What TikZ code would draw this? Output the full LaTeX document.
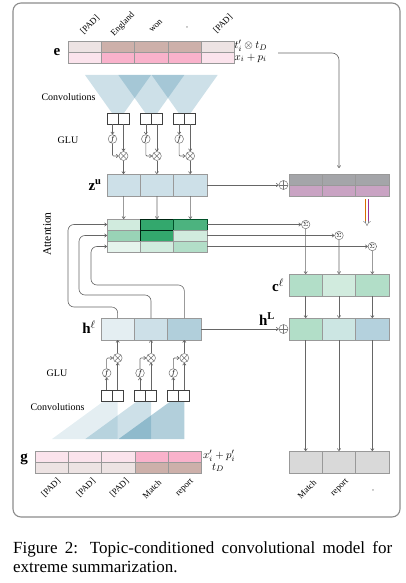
\documentclass[tikz,border=0pt]{standalone}
\usepackage{fontspec}
\setmainfont{Liberation Serif}
\usetikzlibrary{arrows.meta}
\definecolor{bc}{RGB}{5,100,140}
\definecolor{gc}{RGB}{0,146,72}
\definecolor{padtop}{RGB}{237,227,227}
\definecolor{tbrown}{RGB}{205,176,170}
\definecolor{padpink}{RGB}{251,227,236}
\definecolor{tpink}{RGB}{249,178,203}
\definecolor{tgray}{RGB}{164,165,169}
\definecolor{tpurp}{RGB}{201,163,195}
\definecolor{hmid}{RGB}{204,230,227}
\definecolor{ogray}{RGB}{217,217,217}
\tikzset{
 cell/.style={draw=black!40, line width=0.5pt, minimum width=33.33pt, minimum height=11pt, inner sep=0pt, outer sep=0pt},
 tall/.style={cell, minimum height=22pt},
 gbox/.style={draw=black!75, line width=0.7pt, minimum width=11pt, minimum height=11pt, inner sep=0pt, outer sep=0pt},
 conn/.style={draw=black!60, line width=0.6pt, ->},
 opl/.style={circle, draw=black!55, line width=0.5pt, minimum size=9pt, inner sep=0pt,
   path picture={\draw[black!55, line width=0.5pt] (path picture bounding box.north) -- (path picture bounding box.south) (path picture bounding box.west) -- (path picture bounding box.east);}},
 otim/.style={circle, draw=black!55, line width=0.5pt, minimum size=9pt, inner sep=0pt,
   path picture={\draw[black!55, line width=0.5pt] (path picture bounding box.north west) -- (path picture bounding box.south east) (path picture bounding box.north east) -- (path picture bounding box.south west);}},
 fcirc/.style={circle, draw=black!55, line width=0.5pt, minimum size=8pt, inner sep=0pt, font=\fontsize{8}{8}\selectfont},
 sig/.style={circle, draw=black!55, line width=0.5pt, minimum size=8.5pt, inner sep=0pt, font=\fontsize{6}{6}\selectfont},
 word/.style={font=\fontsize{8.8}{10}\selectfont, inner sep=0pt, rotate=45},
 txt/.style={font=\fontsize{10}{12}\selectfont, inner sep=0pt},
 lbl/.style={font=\fontsize{11}{12}\selectfont, inner sep=1pt},
 bigl/.style={font=\fontsize{15}{16}\selectfont, inner sep=0pt},
 capt/.style={font=\fontsize{17}{19}\selectfont, inner sep=0pt, anchor=base west}
}
\begin{document}
\begin{tikzpicture}[x=1pt,y=-1pt,>={To[length=2.7pt,width=3.8pt]}]
\useasboundingbox (0,0) rectangle (405,583);
\draw[black!45, line width=1.1pt, rounded corners=8pt] (13,3) rectangle (400,517);

% ---------- e row
\foreach \i/\ct/\cb in {1/padtop/padpink,2/tbrown/tpink,3/tbrown/tpink,4/tbrown/tpink,5/padtop/padpink}{
  \node[cell, fill=\ct] (et\i) at ({68+33.33*(\i-0.5)},46.5) {};
  \node[cell, fill=\cb] (eb\i) at ({68+33.33*(\i-0.5)},57.5) {};
}
\node[word] (ew1) at (90,25) {[PAD]};
\node[word] (ew2) at (123,24.5) {England};
\node[word] (ew3) at (156,26) {won};
\node[word] (ew4) at (187,27) {.};
\node[word] (ew5) at (223,24) {[PAD]};
\node[lbl, anchor=west] (tl1) at (233.5,46) {$t'_i\otimes t_D$};
\node[lbl, anchor=west] (tl2) at (233.5,58) {$x_i+p_i$};
\node[bigl] (elab) at (57,52) {$\mathbf{e}$};

% ---------- top convolutions
\foreach \c in {118,151.33,184.67}
  \fill[bc, fill opacity=0.2] (\c-33,75) -- (\c+33,75) -- (\c+6,113) -- (\c-6,113) -- cycle;
\node[txt] (convt) at (68.5,97) {Convolutions};
\node[txt] (glut) at (68,140) {GLU};

% ---------- z^u row
\foreach \i in {1,2,3}
  \node[tall, fill=bc!20!white] (zu\i) at ({107+33.33*(\i-0.5)},185) {};
\node[bigl] (zul) at (95,185) {$\mathbf{z}^{\mathbf{u}}$};

% ---------- top GLU
\foreach \i/\c in {1/118,2/151.33,3/184.67}{
  \node[gbox] (ul\i) at (\c-5.5,118.5) {};
  \node[gbox] (ur\i) at (\c+5.5,118.5) {};
  \node[fcirc] (uf\i) at (\c-5.5,139) {$f$};
  \node[otim] (uo\i) at (\c+5.5,156) {};
  \draw[conn] (ul\i.south) -- (uf\i.north);
  \draw[conn, rounded corners=1pt] (uf\i.south) |- (uo\i.west);
  \draw[conn] (ur\i.south) -- (uo\i.north);
  \draw[conn] (uo\i.south) -- (uo\i.south |- zu\i.north);
}

% ---------- right upper block
\foreach \i in {1,2,3}{
  \node[cell, fill=tgray] (rt\i) at ({289+33.33*(\i-0.5)},179.5) {};
  \node[cell, fill=tpurp] (rb\i) at ({289+33.33*(\i-0.5)},190.5) {};
}
\node[opl] (op1) at (283.5,185) {};
\draw[conn] (zu3.east) -- (op1.west);
\coordinate (eout) at (278,53);
\draw[conn, rounded corners=7pt, shorten >=6pt] (eout) -- (rt2.north |- eout) -- (rt2.north);

\coordinate (da) at (367,199);
\coordinate (db) at (367,226);
\draw[-{Implies}, double, double distance=2.2pt, black!50, line width=0.45pt] (da) -- (db);
\draw[orange!85!black, line width=0.45pt, shorten >=5pt] ([xshift=-1.3pt]da) -- ([xshift=-1.3pt]db);
\draw[violet!80, line width=0.45pt, shorten >=5pt] ([xshift=1.3pt]da) -- ([xshift=1.3pt]db);

% ---------- attention matrix
\node[cell, fill=gc!18!white] (a11) at (123.67,224.5) {};
\node[cell, fill=gc!80!white, draw=black!75!gc] (a12) at (157,224.5) {};
\node[cell, fill=gc!70!white, draw=gc!55!black] (a13) at (190.33,224.5) {};
\node[cell, fill=gc!40!white] (a21) at (123.67,235.5) {};
\node[cell, fill=gc!80!white, draw=black!75!gc] (a22) at (157,235.5) {};
\node[cell, fill=gc!18!white] (a23) at (190.33,235.5) {};
\node[cell, fill=gc!10!white] (a31) at (123.67,246.5) {};
\node[cell, fill=gc!18!white] (a32) at (157,246.5) {};
\node[cell, fill=gc!30!white] (a33) at (190.33,246.5) {};
\foreach \i in {1,2,3}
  \draw[conn] (zu\i.south) -- (a1\i.north);
\node[font=\fontsize{11.5}{12}\selectfont, rotate=90, inner sep=0pt] (attl) at (47,234) {Attention};

\node[sig] (s1) at (305.67,224.5) {$\Sigma$};
\node[sig] (s2) at (339,235.5) {$\Sigma$};
\node[sig] (s3) at (372.33,246.5) {$\Sigma$};
\draw[conn] (a13.east) -- (s1.west);
\draw[conn] (a23.east) -- (s2.west);
\draw[conn] (a33.east) -- (s3.west);

% ---------- c^l, h^L, output
\foreach \i/\cf/\hf in {1/gc!30!white/gc!30!white,2/gc!18!white/hmid,3/gc!30!white/bc!30!white}{
  \node[tall, fill=\cf] (c\i) at ({289+33.33*(\i-0.5)},285) {};
  \node[tall, fill=\hf] (hL\i) at ({289+33.33*(\i-0.5)},329) {};
  \node[tall, fill=ogray] (o\i) at ({289+33.33*(\i-0.5)},462) {};
  \draw[conn] (s\i.south) -- (c\i.north);
  \draw[conn] (c\i.south) -- (hL\i.north);
  \draw[conn] (hL\i.south) -- (o\i.north);
}
\node[bigl] (cll) at (278,285) {$\mathbf{c}^{\ell}$};
\node[bigl] (hLl) at (267,319) {$\mathbf{h}^{\mathbf{L}}$};
\node[opl] (op2) at (283.5,329) {};

% ---------- h^l row
\foreach \i/\hf in {1/bc!11!white,2/bc!20!white,3/bc!31!white}
  \node[tall, fill=\hf] (hl\i) at ({101+33.33*(\i-0.5)},329) {};
\node[bigl] (hll) at (89,327) {$\mathbf{h}^{\ell}$};
\draw[conn] (hl3.east) -- (op2.west);

\draw[conn, rounded corners=6pt] (hl1.north) -- (hl1.north |- 0,307) -- (68,307) -- (68,224.5) -- (a11.west);
\draw[conn, rounded corners=6pt] (hl2.north) -- (hl2.north |- 0,295) -- (79,295) -- (79,235.5) -- (a21.west);
\draw[conn, rounded corners=6pt] (hl3.north) -- (hl3.north |- 0,285) -- (91,285) -- (91,246.5) -- (a31.west);

% ---------- bottom convolutions
\fill[bc, fill opacity=0.11] (52,439) -- (104,401) -- (117.67,401) -- (117.67,439) -- cycle;
\fill[bc, fill opacity=0.2] (85.33,439) -- (137.5,401) -- (151,401) -- (151,439) -- cycle;
\fill[bc, fill opacity=0.31] (118.67,439) -- (171,401) -- (184.33,401) -- (184.33,439) -- cycle;
\node[txt] (convb) at (57.5,407) {Convolutions};
\node[txt] (glub) at (57,373) {GLU};

% ---------- bottom GLU
\foreach \i/\c in {1/112.17,2/145.5,3/178.83}{
  \node[gbox] (dl\i) at (\c-5.5,395.5) {};
  \node[gbox] (dr\i) at (\c+5.5,395.5) {};
  \node[fcirc] (df\i) at (\c-5.5,373) {$f$};
  \node[otim] (do\i) at (\c+5.5,358) {};
  \draw[conn] (dl\i.north) -- (df\i.south);
  \draw[conn, rounded corners=1pt] (df\i.north) |- (do\i.west);
  \draw[conn] (dr\i.north) -- (do\i.south);
  \draw[conn] (do\i.north) -- (do\i.north |- hl\i.south);
}

% ---------- g row
\foreach \i/\ct/\cb in {1/padpink/padtop,2/padpink/padtop,3/padpink/padtop,4/tpink/tbrown,5/tpink/tbrown}{
  \node[cell, fill=\ct] (gt\i) at ({35+33.33*(\i-0.5)},456.5) {};
  \node[cell, fill=\cb] (gb\i) at ({35+33.33*(\i-0.5)},467.5) {};
}
\node[lbl, anchor=west] (gl1) at (202,456) {$x'_i+p'_i$};
\node[lbl, anchor=west] (gl2) at (211,467.5) {$t_D$};
\node[bigl] (gll) at (24,459) {$\mathbf{g}$};

\node[word] (gw1) at (51,488) {[PAD]};
\node[word] (gw2) at (86,488) {[PAD]};
\node[word] (gw3) at (119.5,488) {[PAD]};
\node[word] (gw4) at (152,489) {Match};
\node[word] (gw5) at (185,488) {report};
\node[word] (ow1) at (307,489) {Match};
\node[word] (ow2) at (340,488) {report};
\node[word] (ow3) at (373,490) {.};

% ---------- caption
\node[capt] (cap1) at (13,553) {\makebox[379pt][s]{Figure 2: Topic-conditioned convolutional model for}};
\node[capt] (cap2) at (13,572) {extreme summarization.};
\end{tikzpicture}
\end{document}
